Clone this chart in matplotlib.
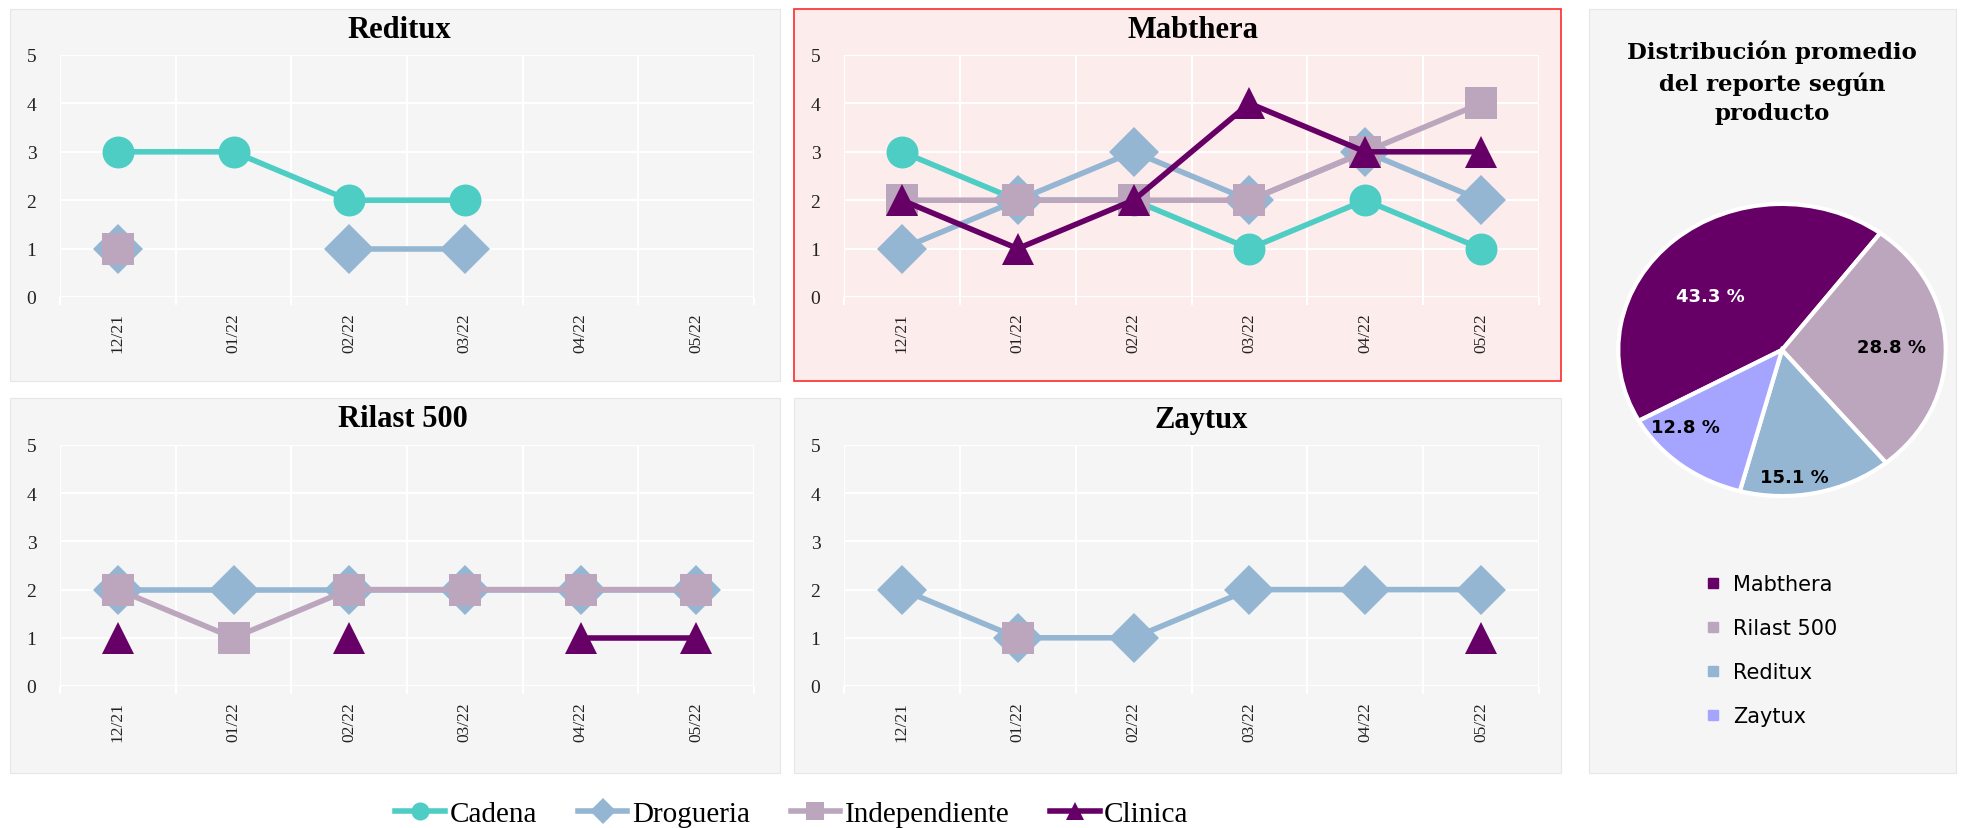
import numpy as np
import matplotlib.pyplot as plt
from matplotlib.patches import Rectangle
from matplotlib.lines import Line2D

nan = np.nan

months = ["12/21", "01/22", "02/22", "03/22", "04/22", "05/22"]
channels = ["Cadena", "Drogueria", "Independiente", "Clinica"]

# score per month and channel, one list per product/channel
reditux_cadena = [3, 3, 2, 2, nan, nan]
reditux_drogueria = [1, nan, 1, 1, nan, nan]
reditux_independiente = [1, nan, nan, nan, nan, nan]
reditux_clinica = [nan, nan, nan, nan, nan, nan]

mabthera_cadena = [3, 2, 2, 1, 2, 1]
mabthera_drogueria = [1, 2, 3, 2, 3, 2]
mabthera_independiente = [2, 2, 2, 2, 3, 4]
mabthera_clinica = [2, 1, 2, 4, 3, 3]

rilast_cadena = [nan, nan, nan, nan, nan, nan]
rilast_drogueria = [2, 2, 2, 2, 2, 2]
rilast_independiente = [2, 1, 2, 2, 2, 2]
rilast_clinica = [1, nan, 1, nan, 1, 1]

zaytux_cadena = [nan, nan, nan, nan, nan, nan]
zaytux_drogueria = [2, 1, 1, 2, 2, 2]
zaytux_independiente = [nan, 1, nan, nan, nan, nan]
zaytux_clinica = [nan, nan, nan, nan, nan, 1]

pie_labels = ["Mabthera", "Rilast 500", "Reditux", "Zaytux"]
pie_values = [43.3, 28.8, 15.1, 12.8]

ch_colors = ["#4ECDC4", "#94B6D2", "#BCA6BE", "#660066"]
ch_markers = ["o", "D", "s", "^"]
ch_msize = [23, 25, 23, 23]
pie_colors = ["#660066", "#BCA6BE", "#94B6D2", "#A5A5FF"]

W, H = 1966, 829
fig = plt.figure(figsize=(W / 100, H / 100), dpi=100)
serif = "Liberation Serif"


def box(x0, y0, x1, y1):
    return [x0 / W, 1 - y1 / H, (x1 - x0) / W, (y1 - y0) / H]


def panel(x0, y0, x1, y1, fc, ec, lw=0.8):
    b = box(x0, y0, x1, y1)
    fig.add_artist(Rectangle((b[0], b[1]), b[2], b[3], transform=fig.transFigure,
                             facecolor=fc, edgecolor=ec, linewidth=lw, zorder=0))


def line_panel(rect, title, title_xy, series, fc):
    ax = fig.add_axes(box(*rect))
    ax.set_facecolor(fc)
    x = np.arange(len(months))
    for vals, c, m, ms in zip(series, ch_colors, ch_markers, ch_msize):
        ax.plot(x, vals, color=c, lw=4, marker=m, markersize=ms,
                markeredgewidth=0, solid_capstyle="butt")
    ax.set_xlim(-0.5, len(months) - 0.5)
    ax.set_ylim(0, 5)
    ax.set_yticks(range(6))
    ax.set_xticks(x)
    ax.set_xticklabels(months, rotation=90, fontfamily=serif, fontsize=12.5, color="#222222")
    ax.set_xticks(np.arange(-0.5, len(months)), minor=True)
    for lab in ax.get_yticklabels():
        lab.set_fontfamily(serif)
        lab.set_fontsize(14)
        lab.set_color("#222222")
    ax.tick_params(axis="x", which="major", length=0, pad=11)
    ax.tick_params(axis="x", which="minor", length=6, color="white", width=1.5)
    ax.tick_params(axis="y", length=0, pad=17)
    ax.grid(True, axis="y", color="white", lw=1.5)
    ax.grid(True, axis="x", which="minor", color="white", lw=1.5)
    for s in ax.spines.values():
        s.set_visible(False)
    ax.set_axisbelow(True)
    fig.text(title_xy[0] / W, 1 - title_xy[1] / H, title, ha="center", va="center",
             fontfamily=serif, fontweight="bold", fontsize=22)
    return ax


gray = "#F5F5F5"
pink = "#FDECEC"
panel(10, 10, 780, 382, gray, "#E6E6E6")
panel(794, 10, 1561, 382, pink, "#FF2A2A", 1.2)
panel(10, 399, 780, 774, gray, "#E6E6E6")
panel(794, 399, 1561, 774, gray, "#E6E6E6")
panel(1589, 10, 1956, 774, gray, "#E6E6E6")

line_panel((60, 56, 754, 298), "Reditux", (399, 30),
           [reditux_cadena, reditux_drogueria, reditux_independiente, reditux_clinica], gray)
line_panel((844, 56, 1539, 298), "Mabthera", (1193, 30),
           [mabthera_cadena, mabthera_drogueria, mabthera_independiente, mabthera_clinica], pink)
line_panel((60, 446, 754, 687), "Rilast 500", (403, 420),
           [rilast_cadena, rilast_drogueria, rilast_independiente, rilast_clinica], gray)
line_panel((844, 446, 1539, 687), "Zaytux", (1201, 421),
           [zaytux_cadena, zaytux_drogueria, zaytux_independiente, zaytux_clinica], gray)

# pie
pax = fig.add_axes(box(1615, 202, 1949, 500))
wedges, _, autotexts = pax.pie(pie_values, colors=pie_colors, startangle=209, counterclock=False,
                               autopct="%.1f %%", pctdistance=0.72,
                               wedgeprops=dict(edgecolor="white", linewidth=3),
                               textprops=dict(fontfamily="DejaVu Sans", fontweight="bold", fontsize=13))
# label placement (radius, angle in degrees) like the best-fit labels in the original
label_pos = [(0.575, 140), (0.67, 2), (0.87, 275), (0.79, 222)]
for t, (r, a) in zip(autotexts, label_pos):
    t.set_position((r * np.cos(np.deg2rad(a)), r * np.sin(np.deg2rad(a))))
autotexts[0].set_color("white")
pax.set_aspect("auto")
pax.set_xlim(-1.02, 1.02)
pax.set_ylim(-1.02, 1.02)

fig.text(1772 / W, 1 - 83 / H, "Distribución promedio\ndel reporte según\nproducto",
         ha="center", va="center", fontfamily="DejaVu Serif", fontweight="bold",
         fontsize=16.5, linespacing=1.45)

pie_handles = [Line2D([], [], ls="none", marker="s", markersize=7, color=c) for c in pie_colors]
fig.legend(pie_handles, pie_labels, loc="center", bbox_to_anchor=(1771 / W, 1 - 651 / H),
           frameon=False, prop=dict(family="DejaVu Sans", size=15), handlelength=0.8,
           handletextpad=0.6, labelspacing=1.15)

# bottom legend
handles = [Line2D([], [], color=c, lw=4, marker=m, markersize=13, markeredgewidth=0)
           for c, m in zip(ch_colors, ch_markers)]
fig.legend(handles, channels, loc="center", bbox_to_anchor=(792 / W, 1 - 815 / H), ncol=4,
           frameon=False, prop=dict(family=serif, size=21), handlelength=1.7,
           handletextpad=0.15, columnspacing=1.4)

fig.savefig("out.png", dpi=100, facecolor="white")
